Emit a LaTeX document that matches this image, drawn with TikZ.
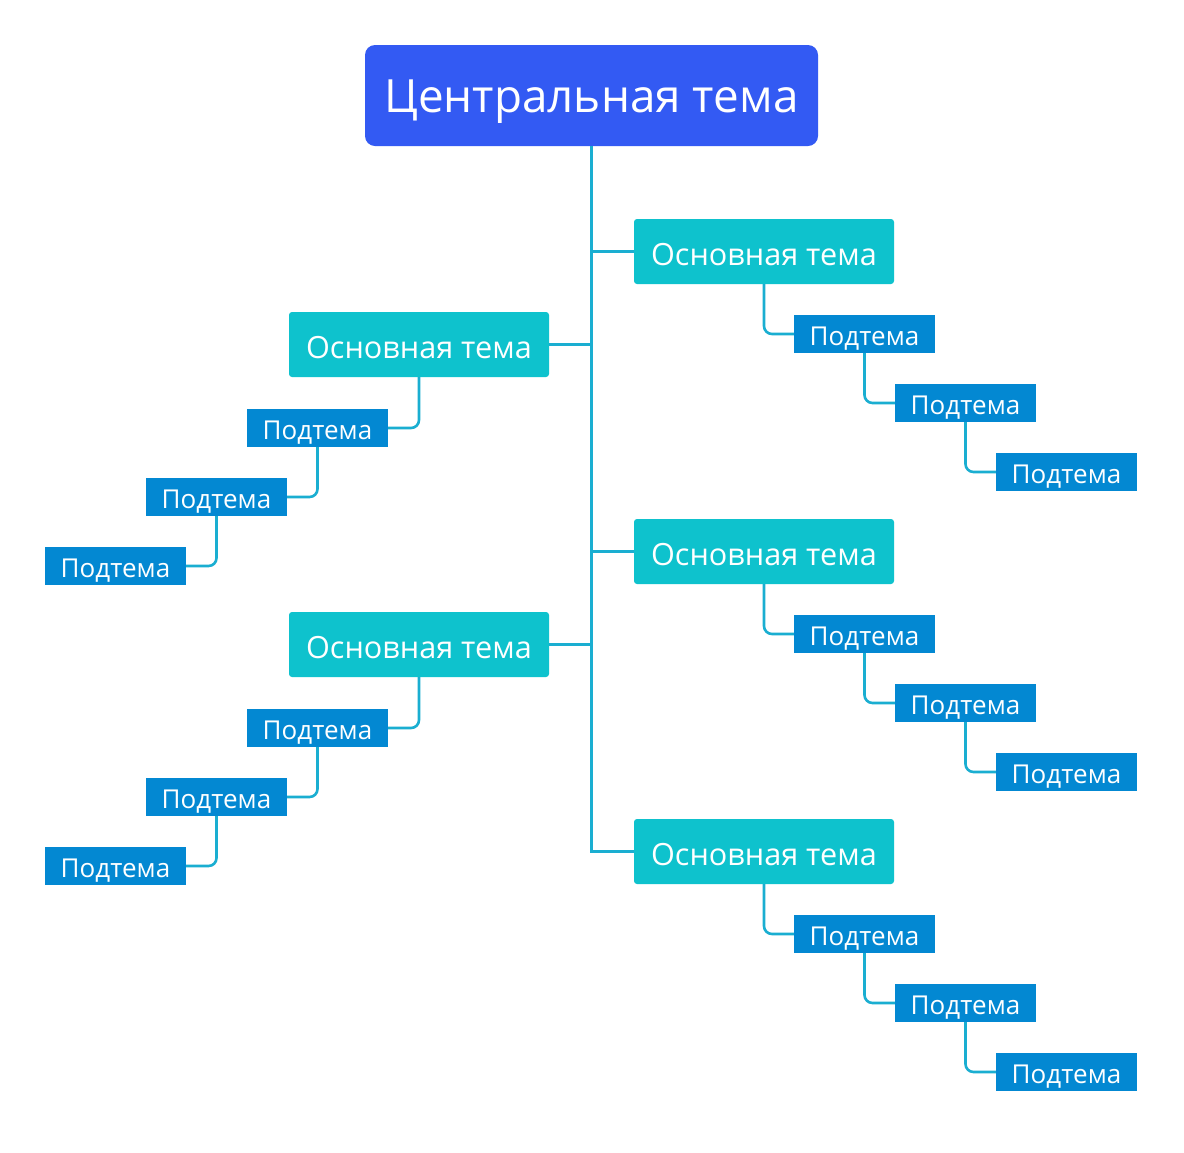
\documentclass[tikz,border=0pt]{standalone}
\usepackage{fontspec}
\setmainfont{Open Sans}
\usetikzlibrary{positioning}
\definecolor{centralblue}{HTML}{335AF3}
\definecolor{mainteal}{HTML}{0EC2CD}
\definecolor{subblue}{HTML}{0388D2}
\definecolor{linkcyan}{HTML}{1AAED1}

\tikzset{
  central/.style={fill=centralblue, text=white, rounded corners=10pt, minimum width=453pt, minimum height=101pt, inner sep=0pt, text height=33pt, text depth=0pt, font=\fontsize{45.8}{50}\selectfont},
  maintopic/.style={fill=mainteal, text=white, rounded corners=3pt, minimum width=260pt, minimum height=65pt, inner sep=0pt, text height=27pt, text depth=0pt, font=\fontsize{30.6}{34}\selectfont},
  subtopic/.style={fill=subblue, text=white, minimum width=141pt, minimum height=38pt, inner sep=0pt, text height=22pt, text depth=0pt, font=\fontsize{26}{28}\selectfont},
  link/.style={draw=linkcyan, line width=2.6pt},
  elbowlink/.style={link, rounded corners=8pt},
}

\begin{document}
\begin{tikzpicture}[x=1pt,y=-1pt]
    \useasboundingbox[fill=white] (0,0) rectangle (1184,1152);
    \node[central] (ct) at (591.5,95.5) {Центральная тема};
    % right side
    \foreach \n/\y in {r1/251.5, r2/551.5, r3/851.5} {
        \node[maintopic] (\n) at (764,\y) {Основная тема};
        \node[subtopic] (\n-a) at (864.5,\y+82.5) {Подтема};
        \node[subtopic] (\n-b) at (965.5,\y+151.5) {Подтема};
        \node[subtopic] (\n-c) at (1066.5,\y+220.5) {Подтема};
        \draw[elbowlink] (\n.south) |- (\n-a.west);
        \draw[elbowlink] (\n-a.south) |- (\n-b.west);
        \draw[elbowlink] (\n-b.south) |- (\n-c.west);
    }
    % left side
    \foreach \n/\y in {l1/344.5, l2/644.5} {
        \node[maintopic] (\n) at (419,\y) {Основная тема};
        \node[subtopic] (\n-a) at (317.5,\y+83.5) {Подтема};
        \node[subtopic] (\n-b) at (216.5,\y+152.5) {Подтема};
        \node[subtopic] (\n-c) at (115.5,\y+221.5) {Подтема};
        \draw[elbowlink] (\n.south) |- (\n-a.east);
        \draw[elbowlink] (\n-a.south) |- (\n-b.east);
        \draw[elbowlink] (\n-b.south) |- (\n-c.east);
        \draw[link] (\n.east) -- (\n.east -| ct.south);
    }
    % trunk
    \draw[link] (ct.south) |- (r3.west);
    \draw[link] (r1.west) -- (r1.west -| ct.south);
    \draw[link] (r2.west) -- (r2.west -| ct.south);
\end{tikzpicture}
\end{document}
